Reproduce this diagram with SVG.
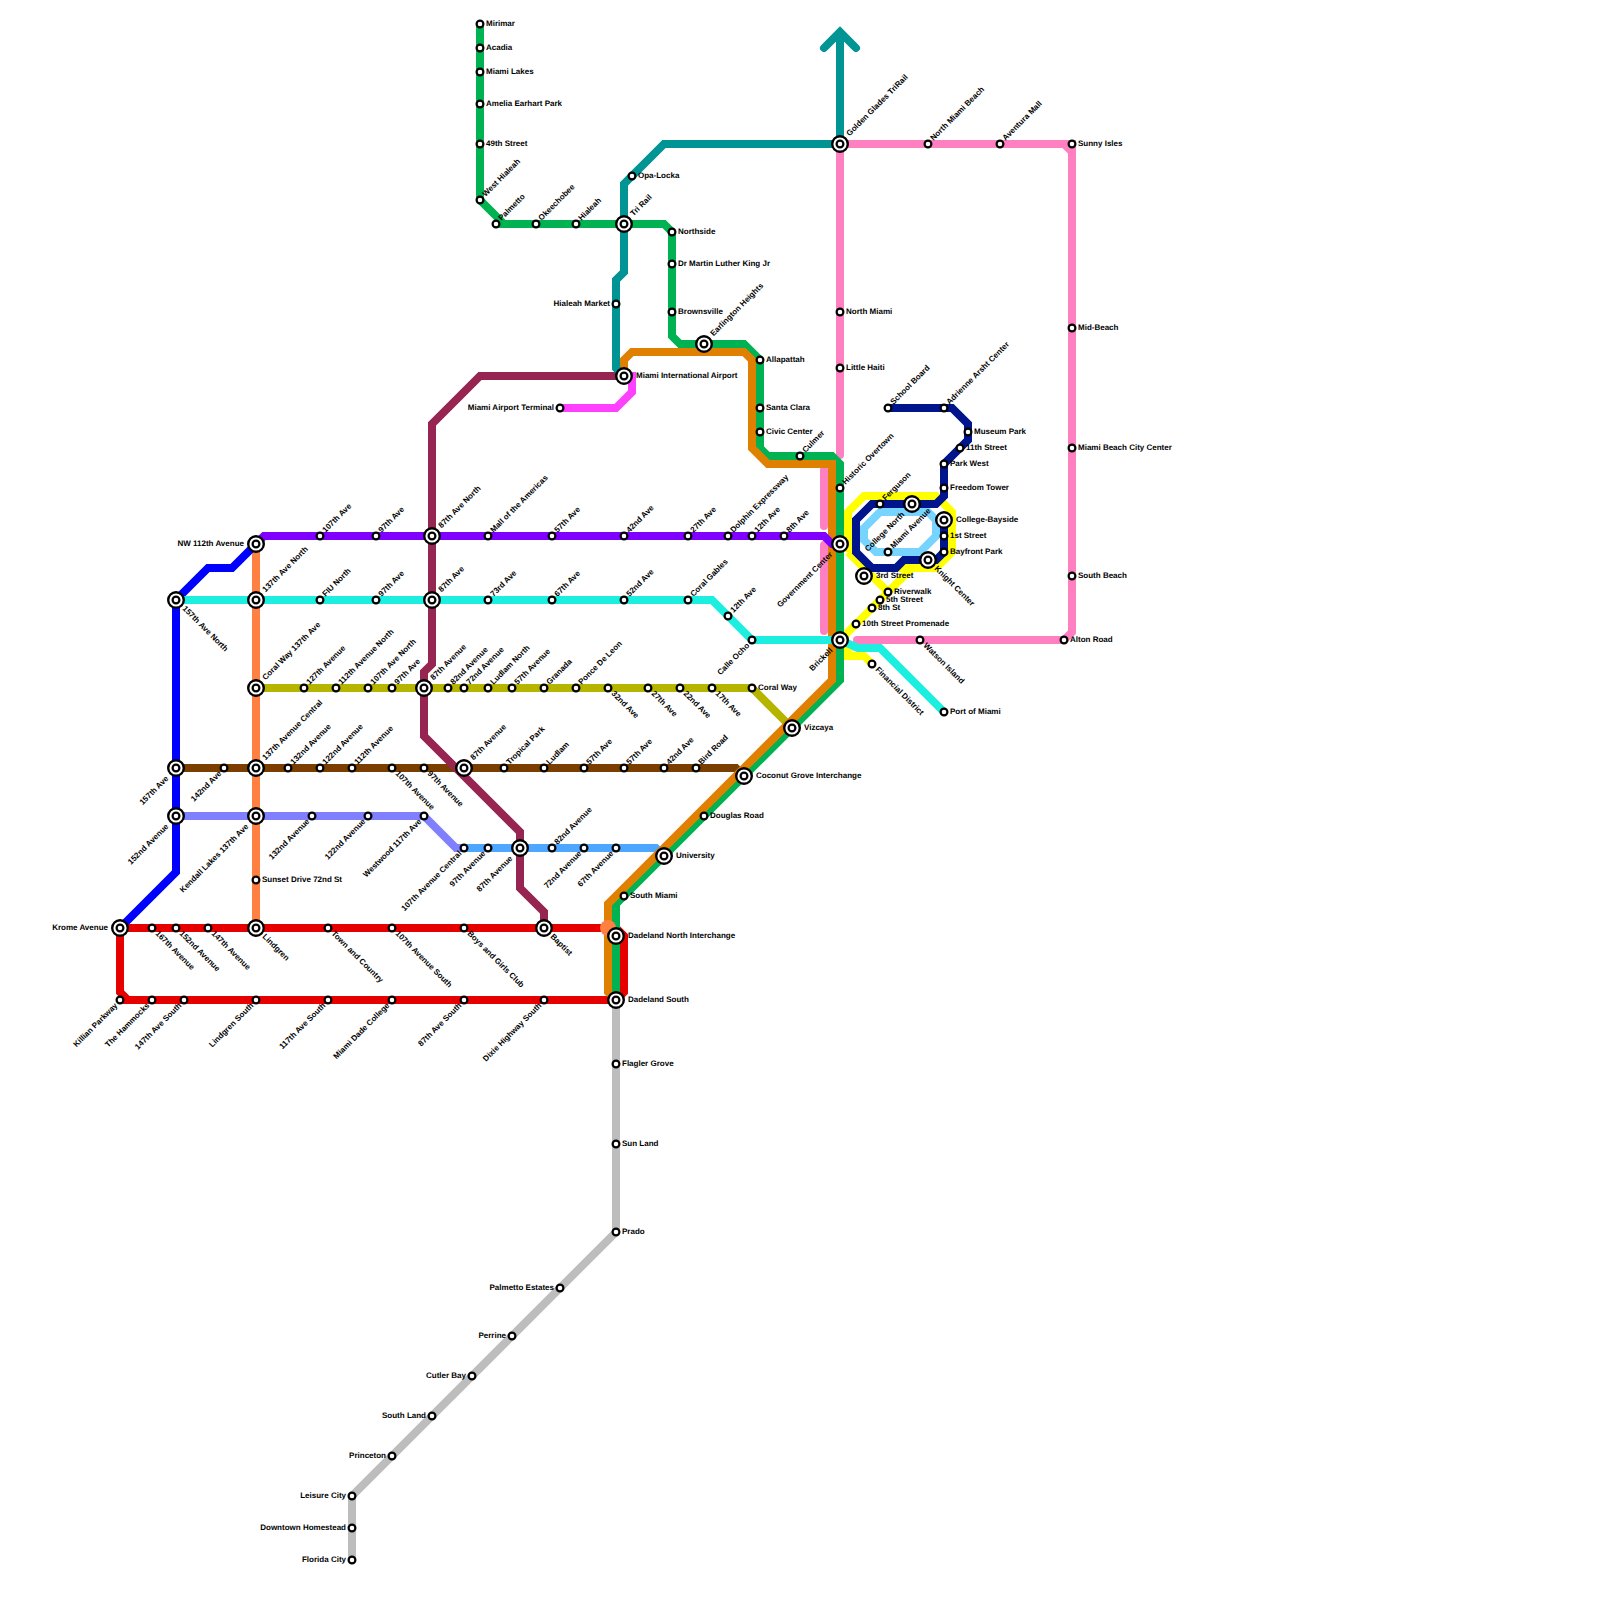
<svg xmlns="http://www.w3.org/2000/svg" width="1600" height="1600" viewBox="0 0 1600 1600">
<style>
text{font:bold 8px "Liberation Sans",Arial,sans-serif;fill:#000;text-rendering:geometricPrecision}
.ln path{fill:none;stroke-width:8;stroke-linejoin:miter}
.st{fill:#fff;stroke:#000;stroke-width:2.2}
.st2{fill:#fff;stroke:#000;stroke-width:2.4}
.r{transform:translate(6px,2px)}
.l{text-anchor:end;transform:translate(-6px,2px)}
.ur{transform:translate(5.5px,-3px) rotate(-45deg)}
.dr{transform:translate(3px,6px) rotate(45deg)}
.dl{text-anchor:end;transform:translate(-2px,6px) rotate(-45deg)}
.ir{transform:translate(12px,2px)}
.il{text-anchor:end;transform:translate(-12px,2px)}
.iur{transform:translate(9.5px,-7.5px) rotate(-45deg)}
.idr{transform:translate(6px,9px) rotate(45deg)}
.idl{text-anchor:end;transform:translate(-7px,11px) rotate(-45deg)}
</style>
<defs>
<g id="a"><circle class="st" r="3.4"/></g>
<g id="b"><circle class="st2" r="7.8"/><circle class="st" r="3.4"/></g>
</defs>
<rect width="1600" height="1600" fill="#fff"/>
<g id="connectors" class="ln">
<path stroke="#BDBDBD" d="M616,1000V1232L352,1496V1560"/>
<path stroke="#FF80C0" stroke-linecap="round" d="M840,144V455M824,470V526M824,545V631"/>
<path stroke="#FF80C0" d="M840,144H1064L1072,152V632L1064,640H862M1064,144H1072V152"/>
<path stroke="#FF80C0" stroke-linecap="round" d="M1064,640H857"/>
<path stroke="#FFFF00" d="M848,552L888,592L840,640M912,568L888,592M848,552V512L864,496H936L952,512V552L936,568H864L848,552M840,640L856,648"/>
<path stroke="#FFFF00" stroke-linejoin="round" d="M840,640L848,648V656H864L872,664"/>
<path stroke="#77D4FF" d="M864,528L880,512H928L936,520V536L920,552H876L864,540Z"/>
<path stroke="#00148C" d="M888,408H952L968,424V440L944,464V496L936,504H872L856,520V552L872,568H896L904,560H936L944,552V520"/>
<path stroke="#FF8040" d="M256,544V928"/>
<path stroke="#E60000" d="M120,928H616L624,936V992L616,1000H128L120,992V928M120,1000H130"/>
<path stroke="#0000FF" d="M120,928L176,872V600L208,568H232L256,544"/>
<path stroke="#7A3E00" d="M176,768H736L744,776"/>
<path stroke="#8080FF" d="M176,816H424L456,848H464"/>
<path stroke="#4DA6FF" d="M464,848H656L664,856"/>
<path stroke="#962651" d="M624,376H480L432,424V664L424,672V736L520,832V888L544,912V928"/>
<path stroke="#B5B500" d="M256,688H752L792,728"/>
<path stroke="#FF40FF" d="M560,408H616L632,392V376H624"/>
<path stroke="#00B251" d="M480,24V200L504,224M496,224H664L672,232V336L680,344H744L760,360V448L768,456H832L840,464V680L616,904V1000"/>
<path stroke="#E08000" d="M624,376V360L632,352H744L752,360V448L768,464H832V680L608,904V992L616,1000"/>
<path stroke="#8000FF" d="M256,544L264,536H824L832,544H840"/>
<path stroke="#1CEFE0" d="M176,600H712L752,640H840L858,648H880L944,712"/>
<path stroke="#009494" d="M840,144H664L624,184V272L616,280V368L624,376"/>
<path stroke="#009494" d="M840,144V36"/>
<path stroke="#009494" stroke-linecap="round" d="M824,48L840,32L856,48"/>
<circle cx="608" cy="928" r="8" fill="#FF8040"/>
</g>
<g id="nodes">
<g id="n1" transform="translate(480 24)"><use href="#a"/><text class="r">Mirimar</text></g>
<g id="n2" transform="translate(480 48)"><use href="#a"/><text class="r">Acadia</text></g>
<g id="n3" transform="translate(480 72)"><use href="#a"/><text class="r">Miami Lakes</text></g>
<g id="n4" transform="translate(480 104)"><use href="#a"/><text class="r">Amelia Earhart Park</text></g>
<g id="n5" transform="translate(480 144)"><use href="#a"/><text class="r">49th Street</text></g>
<g id="n6" transform="translate(480 200)"><use href="#a"/><text class="ur">West Hialeah</text></g>
<g id="n7" transform="translate(496 224)"><use href="#a"/><text class="ur">Palmetto</text></g>
<g id="n8" transform="translate(536 224)"><use href="#a"/><text class="ur">Okeechobee</text></g>
<g id="n9" transform="translate(576 224)"><use href="#a"/><text class="ur">Hialeah</text></g>
<g id="n10" transform="translate(624 224)"><use href="#b"/><text class="iur">Tri Rail</text></g>
<g id="n11" transform="translate(672 232)"><use href="#a"/><text class="r">Northside</text></g>
<g id="n12" transform="translate(672 264)"><use href="#a"/><text class="r">Dr Martin Luther King Jr</text></g>
<g id="n13" transform="translate(672 312)"><use href="#a"/><text class="r">Brownsville</text></g>
<g id="n14" transform="translate(704 344)"><use href="#b"/><text class="iur">Earlington Heights</text></g>
<g id="n15" transform="translate(760 360)"><use href="#a"/><text class="r">Allapattah</text></g>
<g id="n16" transform="translate(760 408)"><use href="#a"/><text class="r">Santa Clara</text></g>
<g id="n17" transform="translate(760 432)"><use href="#a"/><text class="r">Civic Center</text></g>
<g id="n18" transform="translate(800 456)"><use href="#a"/><text class="ur">Culmer</text></g>
<g id="n19" transform="translate(840 488)"><use href="#a"/><text class="ur">Historic Overtown</text></g>
<g id="n20" transform="translate(840 544)"><use href="#b"/><text class="idl">Government Center</text></g>
<g id="n21" transform="translate(840 640)"><use href="#b"/><text class="idl">Brickell</text></g>
<g id="n22" transform="translate(792 728)"><use href="#b"/><text class="ir">Vizcaya</text></g>
<g id="n23" transform="translate(744 776)"><use href="#b"/><text class="ir">Coconut Grove Interchange</text></g>
<g id="n24" transform="translate(704 816)"><use href="#a"/><text class="r">Douglas Road</text></g>
<g id="n25" transform="translate(664 856)"><use href="#b"/><text class="ir">University</text></g>
<g id="n26" transform="translate(624 896)"><use href="#a"/><text class="r">South Miami</text></g>
<g id="n27" transform="translate(616 936)"><use href="#b"/><text class="ir">Dadeland North Interchange</text></g>
<g id="n28" transform="translate(616 1000)"><use href="#b"/><text class="ir">Dadeland South</text></g>
<g id="n29" transform="translate(176 600)"><use href="#b"/><text class="idr">157th Ave North</text></g>
<g id="n30" transform="translate(256 544)"><use href="#b"/><text class="il">NW 112th Avenue</text></g>
<g id="n31" transform="translate(176 768)"><use href="#b"/><text class="idl">157th Ave</text></g>
<g id="n32" transform="translate(176 816)"><use href="#b"/><text class="idl">152nd Avenue</text></g>
<g id="n33" transform="translate(120 928)"><use href="#b"/><text class="il">Krome Avenue</text></g>
<g id="n34" transform="translate(256 600)"><use href="#b"/><text class="iur">137th Ave North</text></g>
<g id="n35" transform="translate(256 688)"><use href="#b"/><text class="iur">Coral Way 137th Ave</text></g>
<g id="n36" transform="translate(256 768)"><use href="#b"/><text class="iur">137th Avenue Central</text></g>
<g id="n37" transform="translate(256 816)"><use href="#b"/><text class="idl">Kendall Lakes 137th Ave</text></g>
<g id="n38" transform="translate(256 880)"><use href="#a"/><text class="r">Sunset Drive 72nd St</text></g>
<g id="n39" transform="translate(256 928)"><use href="#b"/><text class="idr">Lindgren</text></g>
<g id="n40" transform="translate(320 536)"><use href="#a"/><text class="ur">107th Ave</text></g>
<g id="n41" transform="translate(376 536)"><use href="#a"/><text class="ur">97th Ave</text></g>
<g id="n42" transform="translate(432 536)"><use href="#b"/><text class="iur">87th Ave North</text></g>
<g id="n43" transform="translate(488 536)"><use href="#a"/><text class="ur">Mall of the Americas</text></g>
<g id="n44" transform="translate(552 536)"><use href="#a"/><text class="ur">57th Ave</text></g>
<g id="n45" transform="translate(624 536)"><use href="#a"/><text class="ur">42nd Ave</text></g>
<g id="n46" transform="translate(688 536)"><use href="#a"/><text class="ur">27th Ave</text></g>
<g id="n47" transform="translate(728 536)"><use href="#a"/><text class="ur">Dolphin Expressway</text></g>
<g id="n48" transform="translate(752 536)"><use href="#a"/><text class="ur">12th Ave</text></g>
<g id="n49" transform="translate(784 536)"><use href="#a"/><text class="ur">8th Ave</text></g>
<g id="n50" transform="translate(320 600)"><use href="#a"/><text class="ur">FIU North</text></g>
<g id="n51" transform="translate(376 600)"><use href="#a"/><text class="ur">97th Ave</text></g>
<g id="n52" transform="translate(432 600)"><use href="#b"/><text class="iur">87th Ave</text></g>
<g id="n53" transform="translate(488 600)"><use href="#a"/><text class="ur">73rd Ave</text></g>
<g id="n54" transform="translate(552 600)"><use href="#a"/><text class="ur">67th Ave</text></g>
<g id="n55" transform="translate(624 600)"><use href="#a"/><text class="ur">52nd Ave</text></g>
<g id="n56" transform="translate(688 600)"><use href="#a"/><text class="ur">Coral Gables</text></g>
<g id="n57" transform="translate(728 616)"><use href="#a"/><text class="ur">12th Ave</text></g>
<g id="n58" transform="translate(752 640)"><use href="#a"/><text class="dl">Calle Ocho</text></g>
<g id="n59" transform="translate(944 712)"><use href="#a"/><text class="r">Port of Miami</text></g>
<g id="n60" transform="translate(304 688)"><use href="#a"/><text class="ur">127th Avenue</text></g>
<g id="n61" transform="translate(336 688)"><use href="#a"/><text class="ur">112th Avenue North</text></g>
<g id="n62" transform="translate(368 688)"><use href="#a"/><text class="ur">107th Ave North</text></g>
<g id="n63" transform="translate(392 688)"><use href="#a"/><text class="ur">97th Ave</text></g>
<g id="n64" transform="translate(424 688)"><use href="#b"/><text class="iur">87th Avenue</text></g>
<g id="n65" transform="translate(448 688)"><use href="#a"/><text class="ur">82nd Avenue</text></g>
<g id="n66" transform="translate(464 688)"><use href="#a"/><text class="ur">72nd Avenue</text></g>
<g id="n67" transform="translate(488 688)"><use href="#a"/><text class="ur">Ludlam North</text></g>
<g id="n68" transform="translate(512 688)"><use href="#a"/><text class="ur">57th Avenue</text></g>
<g id="n69" transform="translate(544 688)"><use href="#a"/><text class="ur">Granada</text></g>
<g id="n70" transform="translate(576 688)"><use href="#a"/><text class="ur">Ponce De Leon</text></g>
<g id="n71" transform="translate(608 688)"><use href="#a"/><text class="dr">32nd Ave</text></g>
<g id="n72" transform="translate(648 688)"><use href="#a"/><text class="dr">27th Ave</text></g>
<g id="n73" transform="translate(680 688)"><use href="#a"/><text class="dr">22nd Ave</text></g>
<g id="n74" transform="translate(712 688)"><use href="#a"/><text class="dr">17th Ave</text></g>
<g id="n75" transform="translate(752 688)"><use href="#a"/><text class="r">Coral Way</text></g>
<g id="n76" transform="translate(224 768)"><use href="#a"/><text class="dl">142nd Ave</text></g>
<g id="n77" transform="translate(288 768)"><use href="#a"/><text class="ur">132nd Avenue</text></g>
<g id="n78" transform="translate(320 768)"><use href="#a"/><text class="ur">122nd Avenue</text></g>
<g id="n79" transform="translate(352 768)"><use href="#a"/><text class="ur">112th Avenue</text></g>
<g id="n80" transform="translate(392 768)"><use href="#a"/><text class="dr">107th Avenue</text></g>
<g id="n81" transform="translate(424 768)"><use href="#a"/><text class="dr">97th Avenue</text></g>
<g id="n82" transform="translate(464 768)"><use href="#b"/><text class="iur">87th Avenue</text></g>
<g id="n83" transform="translate(504 768)"><use href="#a"/><text class="ur">Tropical Park</text></g>
<g id="n84" transform="translate(544 768)"><use href="#a"/><text class="ur">Ludlam</text></g>
<g id="n85" transform="translate(584 768)"><use href="#a"/><text class="ur">57th Ave</text></g>
<g id="n86" transform="translate(624 768)"><use href="#a"/><text class="ur">57th Ave</text></g>
<g id="n87" transform="translate(664 768)"><use href="#a"/><text class="ur">42nd Ave</text></g>
<g id="n88" transform="translate(696 768)"><use href="#a"/><text class="ur">Bird Road</text></g>
<g id="n89" transform="translate(312 816)"><use href="#a"/><text class="dl">132nd Avenue</text></g>
<g id="n90" transform="translate(368 816)"><use href="#a"/><text class="dl">122nd Avenue</text></g>
<g id="n91" transform="translate(424 816)"><use href="#a"/><text class="dl">Westwood 117th Ave</text></g>
<g id="n92" transform="translate(464 848)"><use href="#a"/><text class="dl">107th Avenue Central</text></g>
<g id="n93" transform="translate(488 848)"><use href="#a"/><text class="dl">97th Avenue</text></g>
<g id="n94" transform="translate(520 848)"><use href="#b"/><text class="idl">87th Avenue</text></g>
<g id="n95" transform="translate(552 848)"><use href="#a"/><text class="ur">82nd Avenue</text></g>
<g id="n96" transform="translate(584 848)"><use href="#a"/><text class="dl">72nd Avenue</text></g>
<g id="n97" transform="translate(616 848)"><use href="#a"/><text class="dl">67th Avenue</text></g>
<g id="n98" transform="translate(152 928)"><use href="#a"/><text class="dr">167th Avenue</text></g>
<g id="n99" transform="translate(176 928)"><use href="#a"/><text class="dr">152nd Avenue</text></g>
<g id="n100" transform="translate(208 928)"><use href="#a"/><text class="dr">147th Avenue</text></g>
<g id="n101" transform="translate(328 928)"><use href="#a"/><text class="dr">Town and Country</text></g>
<g id="n102" transform="translate(392 928)"><use href="#a"/><text class="dr">107th Avenue South</text></g>
<g id="n103" transform="translate(464 928)"><use href="#a"/><text class="dr">Boys and Girls Club</text></g>
<g id="n104" transform="translate(544 928)"><use href="#b"/><text class="idr">Baptist</text></g>
<g id="n105" transform="translate(120 1000)"><use href="#a"/><text class="dl">Killian Parkway</text></g>
<g id="n106" transform="translate(152 1000)"><use href="#a"/><text class="dl">The Hammocks</text></g>
<g id="n107" transform="translate(184 1000)"><use href="#a"/><text class="dl">147th Ave South</text></g>
<g id="n108" transform="translate(256 1000)"><use href="#a"/><text class="dl">Lindgren South</text></g>
<g id="n109" transform="translate(328 1000)"><use href="#a"/><text class="dl">117th Ave South</text></g>
<g id="n110" transform="translate(392 1000)"><use href="#a"/><text class="dl">Miami Dade College</text></g>
<g id="n111" transform="translate(464 1000)"><use href="#a"/><text class="dl">87th Ave South</text></g>
<g id="n112" transform="translate(544 1000)"><use href="#a"/><text class="dl">Dixie Highway South</text></g>
<g id="n113" transform="translate(616 1064)"><use href="#a"/><text class="r">Flagler Grove</text></g>
<g id="n114" transform="translate(616 1144)"><use href="#a"/><text class="r">Sun Land</text></g>
<g id="n115" transform="translate(616 1232)"><use href="#a"/><text class="r">Prado</text></g>
<g id="n116" transform="translate(560 1288)"><use href="#a"/><text class="l">Palmetto Estates</text></g>
<g id="n117" transform="translate(512 1336)"><use href="#a"/><text class="l">Perrine</text></g>
<g id="n118" transform="translate(472 1376)"><use href="#a"/><text class="l">Cutler Bay</text></g>
<g id="n119" transform="translate(432 1416)"><use href="#a"/><text class="l">South Land</text></g>
<g id="n120" transform="translate(392 1456)"><use href="#a"/><text class="l">Princeton</text></g>
<g id="n121" transform="translate(352 1496)"><use href="#a"/><text class="l">Leisure City</text></g>
<g id="n122" transform="translate(352 1528)"><use href="#a"/><text class="l">Downtown Homestead</text></g>
<g id="n123" transform="translate(352 1560)"><use href="#a"/><text class="l">Florida City</text></g>
<g id="n124" transform="translate(840 144)"><use href="#b"/><text class="iur">Golden Glades TriRail</text></g>
<g id="n125" transform="translate(632 176)"><use href="#a"/><text class="r">Opa-Locka</text></g>
<g id="n126" transform="translate(616 304)"><use href="#a"/><text class="l">Hialeah Market</text></g>
<g id="n127" transform="translate(840 312)"><use href="#a"/><text class="r">North Miami</text></g>
<g id="n128" transform="translate(840 368)"><use href="#a"/><text class="r">Little Haiti</text></g>
<g id="n129" transform="translate(928 144)"><use href="#a"/><text class="ur">North Miami Beach</text></g>
<g id="n130" transform="translate(1000 144)"><use href="#a"/><text class="ur">Aventura Mall</text></g>
<g id="n131" transform="translate(1072 144)"><use href="#a"/><text class="r">Sunny Isles</text></g>
<g id="n132" transform="translate(1072 328)"><use href="#a"/><text class="r">Mid-Beach</text></g>
<g id="n133" transform="translate(1072 448)"><use href="#a"/><text class="r">Miami Beach City Center</text></g>
<g id="n134" transform="translate(1072 576)"><use href="#a"/><text class="r">South Beach</text></g>
<g id="n135" transform="translate(1064 640)"><use href="#a"/><text class="r">Alton Road</text></g>
<g id="n136" transform="translate(920 640)"><use href="#a"/><text class="dr">Watson Island</text></g>
<g id="n137" transform="translate(560 408)"><use href="#a"/><text class="l">Miami Airport Terminal</text></g>
<g id="n138" transform="translate(624 376)"><use href="#b"/><text class="ir">Miami International Airport</text></g>
<g id="n139" transform="translate(888 408)"><use href="#a"/><text class="ur">School Board</text></g>
<g id="n140" transform="translate(944 408)"><use href="#a"/><text class="ur">Adrienne Arsht Center</text></g>
<g id="n141" transform="translate(968 432)"><use href="#a"/><text class="r">Museum Park</text></g>
<g id="n142" transform="translate(960 448)"><use href="#a"/><text class="r">11th Street</text></g>
<g id="n143" transform="translate(944 464)"><use href="#a"/><text class="r">Park West</text></g>
<g id="n144" transform="translate(944 488)"><use href="#a"/><text class="r">Freedom Tower</text></g>
<g id="n145" transform="translate(944 520)"><use href="#b"/><text class="ir">College-Bayside</text></g>
<g id="n146" transform="translate(944 536)"><use href="#a"/><text class="r">1st Street</text></g>
<g id="n147" transform="translate(944 552)"><use href="#a"/><text class="r">Bayfront Park</text></g>
<g id="n148" transform="translate(928 560)"><use href="#b"/><text class="idr">Knight Center</text></g>
<g id="n149" transform="translate(864 576)"><use href="#b"/><text class="ir">3rd Street</text></g>
<g id="n150" transform="translate(880 504)"><use href="#a"/><text class="ur">Ferguson</text></g>
<g id="n151" transform="translate(912 504)"><use href="#b"/><text class="idl">College North</text></g>
<g id="n152" transform="translate(888 552)"><use href="#a"/><text class="ur">Miami Avenue</text></g>
<g id="n153" transform="translate(888 592)"><use href="#a"/><text class="r">Riverwalk</text></g>
<g id="n154" transform="translate(880 600)"><use href="#a"/><text class="r">5th Street</text></g>
<g id="n155" transform="translate(872 608)"><use href="#a"/><text class="r">8th St</text></g>
<g id="n156" transform="translate(856 624)"><use href="#a"/><text class="r">10th Street Promenade</text></g>
<g id="n157" transform="translate(872 664)"><use href="#a"/><text class="dr">Financial District</text></g>
</g>
</svg>
